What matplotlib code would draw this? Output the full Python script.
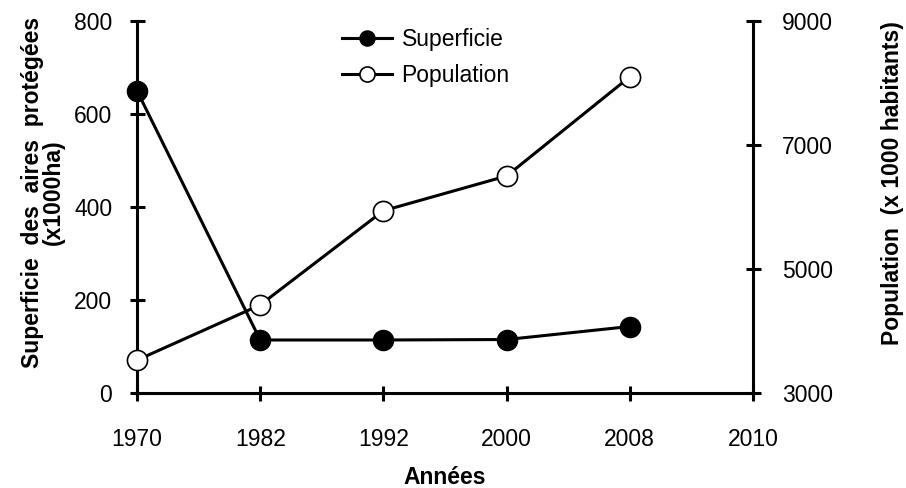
import matplotlib
matplotlib.use("Agg")
import matplotlib.pyplot as plt

years = ["1970", "1982", "1992", "2000", "2008", "2010"]
superficie = [650, 114, 114, 115, 143]
population = [3530, 4420, 5940, 6500, 8100]
left_ticks = [0, 200, 400, 600, 800]
right_ticks = [3000, 5000, 7000, 9000]

plt.rcParams['font.family'] = ['Liberation Sans', 'DejaVu Sans']

W, H = 906, 488
fig = plt.figure(figsize=(W / 100, H / 100), dpi=100)
x0, x1, y0, y1 = 137, 753, 21, 393
ax = fig.add_axes([x0 / W, 1 - y1 / H, (x1 - x0) / W, (y1 - y0) / H])
ax2 = ax.twinx()

lw = 2.2
fs = 16.5
xs = list(range(len(years)))

l1, = ax.plot(xs[:len(superficie)], superficie, color='black', lw=lw, marker='o',
              markersize=14.5, markerfacecolor='black', markeredgecolor='black',
              clip_on=False, zorder=3, label='Superficie')
l2, = ax2.plot(xs[:len(population)], population, color='black', lw=lw, marker='o',
               markersize=14.5, markerfacecolor='white', markeredgecolor='black',
               markeredgewidth=1.2, clip_on=False, zorder=3, label='Population')

ax.set_xlim(0, len(years) - 1)
ax.set_ylim(0, 800)
ax2.set_ylim(3000, 9000)
ax.set_xticks(xs)
ax.set_xticklabels(years)
ax.set_yticks(left_ticks)
ax2.set_yticks(right_ticks)

for a in (ax, ax2):
    for s in a.spines.values():
        s.set_linewidth(lw)
    a.spines['top'].set_visible(False)
ax.spines['right'].set_visible(False)
ax2.spines['left'].set_visible(False)
ax2.spines['bottom'].set_visible(False)

ax.tick_params(axis='y', direction='inout', length=10.8, width=lw, labelsize=fs, pad=12.5)
ax.tick_params(axis='x', direction='inout', length=10.8, width=lw, labelsize=fs, pad=20)
ax2.tick_params(axis='y', direction='inout', length=10.8, width=lw, labelsize=fs, pad=15.5)

fig.text(43 / W, 1 - 192 / H, "Superficie  des  aires  protégées\n(x1000ha)", rotation=90,
         ha='center', va='center', multialignment='center', linespacing=0.85,
         fontsize=fs, fontweight='bold')
fig.text(893 / W, 1 - 183 / H, "Population  (x 1000 habitants)", rotation=90,
         ha='center', va='center', fontsize=fs, fontweight='bold')
fig.text(445 / W, 1 - 478 / H, "Années", ha='center', va='center',
         fontsize=fs, fontweight='bold')

leg = ax2.legend(handles=[l1, l2], loc='upper left', bbox_to_anchor=(342 / W, 1 - 28 / H),
                 bbox_transform=fig.transFigure, frameon=False, fontsize=fs,
                 markerscale=0.75, handlelength=2.2, handletextpad=0.4,
                 labelspacing=0.55, borderaxespad=0, borderpad=0)

fig.savefig("out.png", dpi=100)
